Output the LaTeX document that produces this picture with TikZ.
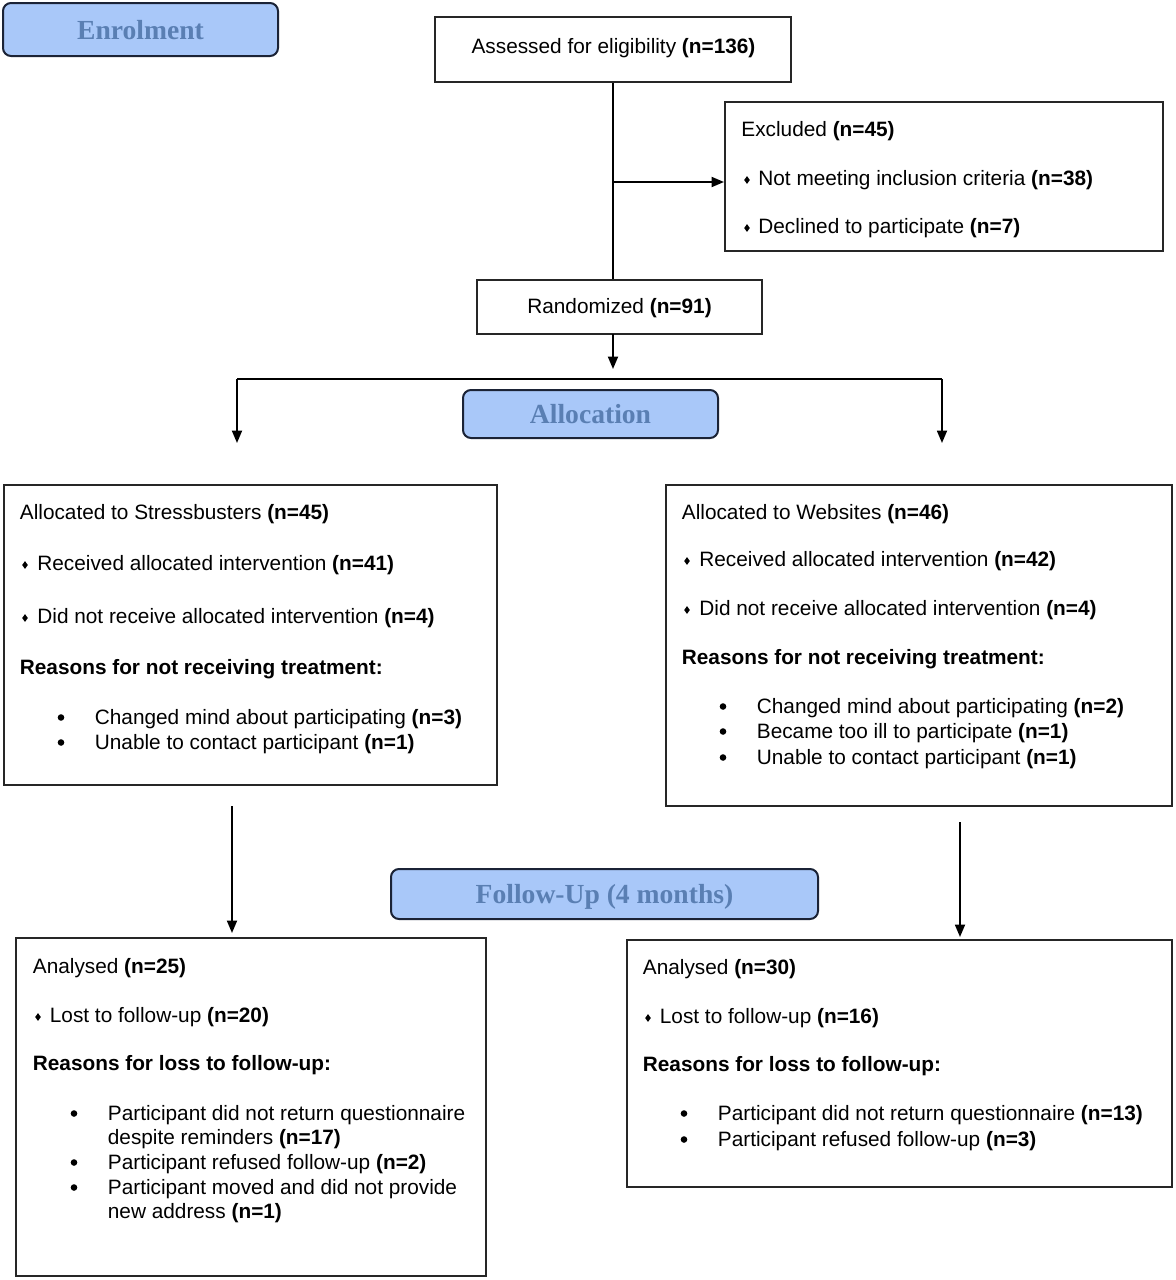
\documentclass[tikz,border=0pt]{standalone}
\usepackage{fontspec}
\setmainfont{Liberation Sans}
\newfontfamily\hdrfont{Liberation Serif}
\usetikzlibrary{arrows.meta}
\definecolor{hdrfill}{HTML}{A9C8F9}
\definecolor{hdrtext}{HTML}{5A7FB3}
\definecolor{hdrline}{HTML}{1B2336}
\newcommand\diam[2]{\fill (#1,#2) +(0,-3.9) -- +(2.8,0) -- +(0,3.9) -- +(-2.8,0) -- cycle;}
\newcommand\bdot[2]{\fill (#1,#2) circle (3.3);}
\begin{document}
\begin{tikzpicture}[x=0.5pt,y=-0.5pt,
  box/.style={draw=black!85, line width=1pt, inner sep=0pt},
  hdr/.style={draw=hdrline, fill=hdrfill, line width=1pt, rounded corners=4pt, inner sep=0pt,
     text=hdrtext, text height=10.8pt, text depth=1.2pt,
     font=\hdrfont\bfseries\fontsize{13.8pt}{16pt}\selectfont},
  txt/.style={anchor=base west, inner sep=0pt, font=\fontsize{10.4pt}{12pt}\selectfont},
  ctxt/.style={anchor=base, inner sep=0pt, font=\fontsize{10.4pt}{12pt}\selectfont},
  conn/.style={line width=0.9pt, black},
  arr/.style={conn, -{Triangle[length=6.2pt,width=5pt]}}]
\useasboundingbox (0,0) rectangle (1175,1280);

% header boxes
\node[hdr, minimum width=137.5pt, minimum height=26.5pt] (enrol) at (140.5,29.5) {Enrolment};
\node[hdr, minimum width=127.5pt, minimum height=24pt] (alloc) at (590.5,414) {Allocation};
\node[hdr, minimum width=213.5pt, minimum height=25pt] (follow) at (604.5,894) {Follow-Up (4 months)};

% main boxes
\node[box, minimum width=178pt, minimum height=32.5pt] (assess) at (613,49.5) {};
\node[ctxt] (tassess) at (613.5,53) {Assessed for eligibility \textbf{(n=136)}};
\node[box, minimum width=219pt, minimum height=74.5pt] (excl) at (944,176.5) {};
\node[box, minimum width=142.5pt, minimum height=27pt] (rand) at (619.5,307) {};
\node[ctxt] (trand) at (619.5,313) {Randomized \textbf{(n=91)}};
\node[box, minimum width=246.5pt, minimum height=150pt] (lalloc) at (250.5,635) {};
\node[box, minimum width=253pt, minimum height=160.5pt] (ralloc) at (919,645.5) {};
\node[box, minimum width=235pt, minimum height=169pt] (lana) at (251,1107) {};
\node[box, minimum width=272.5pt, minimum height=123.5pt] (rana) at (899.5,1063.5) {};

% excluded text
\node[txt] (e1) at (741,136) {Excluded \textbf{(n=45)}};
\diam{747}{180}
\node[txt] (e2) at (758,185) {Not meeting inclusion criteria \textbf{(n=38)}};
\diam{747}{228}
\node[txt] (e3) at (758,233) {Declined to participate \textbf{(n=7)}};

% left allocation text
\node[txt] (la1) at (19.5,519) {Allocated to Stressbusters \textbf{(n=45)}};
\diam{25}{565}
\node[txt] (la2) at (37,570) {Received allocated intervention \textbf{(n=41)}};
\diam{25}{618}
\node[txt] (la3) at (37,623) {Did not receive allocated intervention \textbf{(n=4)}};
\node[txt] (la4) at (19.5,674) {\textbf{Reasons for not receiving treatment:}};
\bdot{61}{717.5}
\node[txt] (la5) at (94.5,724) {Changed mind about participating \textbf{(n=3)}};
\bdot{61}{742.5}
\node[txt] (la6) at (94.5,749) {Unable to contact participant \textbf{(n=1)}};

% right allocation text
\node[txt] (ra1) at (681.5,519) {Allocated to Websites \textbf{(n=46)}};
\diam{687}{561}
\node[txt] (ra2) at (699,566) {Received allocated intervention \textbf{(n=42)}};
\diam{687}{610}
\node[txt] (ra3) at (699,615) {Did not receive allocated intervention \textbf{(n=4)}};
\node[txt] (ra4) at (681.5,664) {\textbf{Reasons for not receiving treatment:}};
\bdot{723}{706.5}
\node[txt] (ra5) at (756.5,713) {Changed mind about participating \textbf{(n=2)}};
\bdot{723}{731.5}
\node[txt] (ra6) at (756.5,738) {Became too ill to participate \textbf{(n=1)}};
\bdot{723}{757.5}
\node[txt] (ra7) at (756.5,764) {Unable to contact participant \textbf{(n=1)}};

% left analysed text
\node[txt] (lb1) at (32.5,973) {Analysed \textbf{(n=25)}};
\diam{38}{1017}
\node[txt] (lb2) at (49.5,1022) {Lost to follow-up \textbf{(n=20)}};
\node[txt] (lb3) at (32.5,1070) {\textbf{Reasons for loss to follow-up:}};
\bdot{74}{1113.5}
\node[txt] (lb4) at (107.5,1120) {Participant did not return questionnaire};
\node[txt] (lb5) at (107.5,1144) {despite reminders \textbf{(n=17)}};
\bdot{74}{1162.5}
\node[txt] (lb6) at (107.5,1169) {Participant refused follow-up \textbf{(n=2)}};
\bdot{74}{1187.5}
\node[txt] (lb7) at (107.5,1194) {Participant moved and did not provide};
\node[txt] (lb8) at (107.5,1218) {new address \textbf{(n=1)}};

% right analysed text
\node[txt] (rb1) at (642.5,974) {Analysed \textbf{(n=30)}};
\diam{648}{1018}
\node[txt] (rb2) at (659.5,1023) {Lost to follow-up \textbf{(n=16)}};
\node[txt] (rb3) at (642.5,1071) {\textbf{Reasons for loss to follow-up:}};
\bdot{684}{1113.5}
\node[txt] (rb4) at (717.5,1120) {Participant did not return questionnaire \textbf{(n=13)}};
\bdot{684}{1139.5}
\node[txt] (rb5) at (717.5,1146) {Participant refused follow-up \textbf{(n=3)}};

% connectors
\coordinate (b1) at (613,182);
\draw[conn] (assess.south) -- (assess.south |- rand.north);
\draw[arr] (b1) -- (b1 -| excl.west);
\coordinate (r0) at (613,334);
\coordinate (r1) at (613,369);
\draw[arr] (r0) -- (r1);
\coordinate (hl) at (237,379);
\coordinate (hr) at (942,379);
\coordinate (hle) at (237,443);
\coordinate (hre) at (942,443);
\draw[conn] (hl) -- (hr);
\draw[arr] (hl) -- (hle);
\draw[arr] (hr) -- (hre);
\coordinate (ls) at (232,806);
\coordinate (le) at (232,933);
\draw[arr] (ls) -- (le);
\coordinate (rs) at (960,822);
\coordinate (re) at (960,937);
\draw[arr] (rs) -- (re);
\end{tikzpicture}
\end{document}
